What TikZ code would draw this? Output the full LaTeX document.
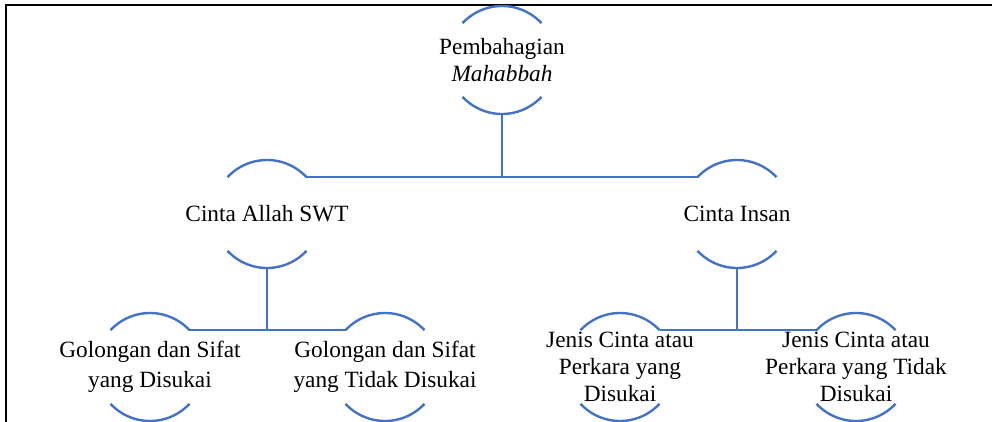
\documentclass[tikz,border=0pt]{standalone}
\usepackage{fontspec}
\setmainfont{Liberation Serif}
\usetikzlibrary{positioning}
\definecolor{smartblue}{RGB}{68,114,196}

\begin{document}
\begin{tikzpicture}[x=1pt,y=1pt]
        \tikzstyle{bubble}=[circle,minimum size=108pt,inner sep=0pt,outer sep=0pt]
        \tikzstyle{arcline}=[draw=smartblue,line width=2.4pt]
        \tikzstyle{link}=[draw=smartblue,line width=2.4pt]
        \tikzstyle{annot}=[align=center,inner sep=0pt,font=\fontsize{23.3}{27}\selectfont]

        \useasboundingbox (0,0) rectangle (992,-422);

        % Frame
        \draw[line width=1.5pt] (6,-422) -- (6,-5) -- (992,-5);

        % Draw the circle nodes
        \node[bubble] (P) at (502,-60) {};
        \foreach \name / \x in {CA/267,CI/737}
            \node[bubble] (\name) at (\x,-214) {};
        \foreach \name / \x in {G1/150,G2/385,J1/620,J2/856}
            \node[bubble] (\name) at (\x,-367) {};

        % Open arcs, top and bottom of every circle
        \foreach \name in {P,CA,CI,G1,G2,J1,J2} {
            \draw[arcline] (\name.43) arc (43:137:54pt);
            \draw[arcline] (\name.223) arc (223:317:54pt);
        }

        % Texts
        \node[annot] (P-t) at (P) {Pembahagian\\\textit{Mahabbah}};
        \node[annot] (CA-t) at (CA) {Cinta Allah SWT};
        \node[annot] (CI-t) at (CI) {Cinta Insan};
        \node[annot,font=\fontsize{23.3}{30}\selectfont] (G1-t) at (G1) {Golongan dan Sifat\\yang Disukai};
        \node[annot,font=\fontsize{23.3}{30}\selectfont] (G2-t) at (G2) {Golongan dan Sifat\\yang Tidak Disukai};
        \node[annot] (J1-t) at (J1) {Jenis Cinta atau\\Perkara yang\\Disukai};
        \node[annot] (J2-t) at (J2) {Jenis Cinta atau\\Perkara yang Tidak\\Disukai};

        % Connect the levels
        \draw[link] (P.south) -- (P.south |- CA.43);
        \draw[link] (CA.43) -- (CI.137);
        \draw[link] (CA.south) -- (CA.south |- G1.43);
        \draw[link] (G1.43) -- (G2.137);
        \draw[link] (CI.south) -- (CI.south |- J1.43);
        \draw[link] (J1.43) -- (J2.137);

    \end{tikzpicture}
\end{document}
